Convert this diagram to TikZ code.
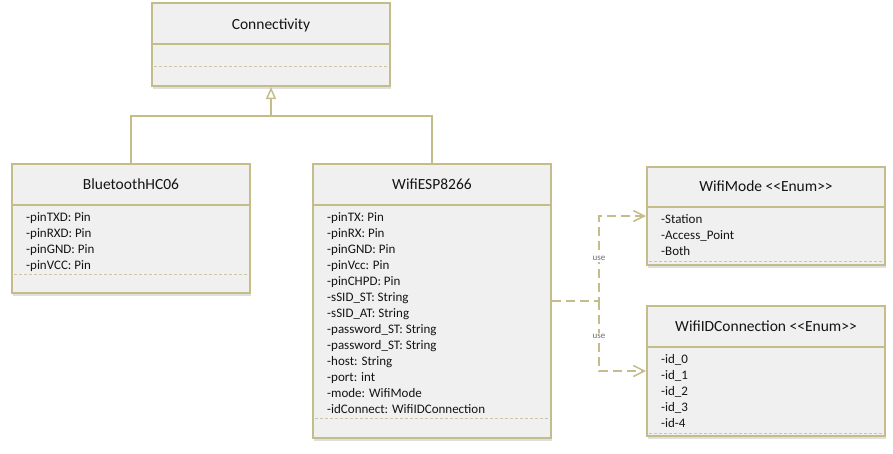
\documentclass[tikz,border=0pt]{standalone}
\usepackage{fontspec}
\setmainfont{Carlito}
\usetikzlibrary{arrows.meta,positioning,calc,shadows}

\definecolor{umlline}{RGB}{196,189,138}
\definecolor{umlsep}{RGB}{205,198,160}
\definecolor{umlfill}{RGB}{240,240,240}
\definecolor{umltext}{RGB}{20,20,20}
\definecolor{uselabel}{RGB}{110,110,110}

\tikzset{
  classbox/.style={shape=rectangle,draw=umlline,line width=2pt,fill=umlfill,
    minimum width=238pt,inner sep=0pt,
    drop shadow={shadow xshift=1pt,shadow yshift=-3pt,opacity=0.25}},
  classline/.style={draw=umlline,line width=2pt},
  sepline/.style={draw=umlsep,line width=1pt,dash pattern=on 3pt off 2pt},
  classtitle/.style={anchor=base,text=umltext,font=\fontsize{15.5}{18}\selectfont,inner sep=0pt},
  attr/.style={anchor=base west,text=umltext,font=\fontsize{13}{15}\selectfont,inner sep=0pt},
  genline/.style={draw=umlline,line width=1.5pt},
  usedep/.style={draw=umlline,line width=1.5pt,dash pattern=on 9pt off 5pt,
    -{Straight Barb[length=11pt,width=11pt,line width=1.5pt]}},
  uselbl/.style={fill=white,inner sep=1pt,text=uselabel,font=\fontsize{9}{10}\selectfont}
}

\begin{document}
\begin{tikzpicture}[x=1pt,y=-1pt]
  \useasboundingbox (0,0) rectangle (893,453);

  % class boxes
  \node[classbox,minimum height=83pt]  (conn) at (271,44.5) {};
  \node[classbox,minimum height=129pt] (bt)   at (131,228.5) {};
  \node[classbox,minimum height=274pt] (wifi) at (432,301) {};
  \node[classbox,minimum height=98pt]  (mode) at (766,216) {};
  \node[classbox,minimum height=130pt] (idc)  at (766,371) {};

  % headers
  \foreach \cls/\hd in {conn/42, bt/42, wifi/42, mode/41, idc/42} {
    \draw[classline] ($(\cls.north west)+(0,\hd)$) -- ($(\cls.north east)+(0,\hd)$);
  }
  \node[classtitle] (conntitle) at ($(conn.north)+(0,27)$) {Connectivity};
  \node[classtitle] (bttitle)   at ($(bt.north)+(0,26)$)   {BluetoothHC06};
  \node[classtitle] (wifititle) at ($(wifi.north)+(0,26)$) {WifiESP8266};
  \node[classtitle] (modetitle) at ($(mode.north)+(0,25)$) {WifiMode <{}<Enum>{}>};
  \node[classtitle] (idctitle)  at ($(idc.north)+(0,26)$)  {WifiIDConnection <{}<Enum>{}>};

  % attributes
  \foreach \attr [count=\i] in {-pinTXD: Pin, -pinRXD: Pin, -pinGND: Pin, -pinVCC: Pin} {
    \node[attr] (bt\i) at ($(bt.north west)+(15,42+16*\i)$) {\attr};
  }
  \foreach \attr [count=\i] in {-pinTX: Pin, -pinRX: Pin, -pinGND: Pin, -pinVcc: Pin,
      -pinCHPD: Pin, -sSID\_ST: String, -sSID\_AT: String, -password\_ST: String,
      -password\_ST: String, -host: String, -port: int, -mode: WifiMode,
      -idConnect: WifiIDConnection} {
    \node[attr] (wifi\i) at ($(wifi.north west)+(15,42+16*\i)$) {\attr};
  }
  \foreach \attr [count=\i] in {-Station, -Access\_Point, -Both} {
    \node[attr] (mode\i) at ($(mode.north west)+(15,41+16*\i)$) {\attr};
  }
  \foreach \attr [count=\i] in {-id\_0, -id\_1, -id\_2, -id\_3, -id-4} {
    \node[attr] (idc\i) at ($(idc.north west)+(15,42+16*\i)$) {\attr};
  }

  % separators
  \foreach \cls/\up in {conn/21, bt/20, wifi/21, mode/5, idc/4} {
    \draw[sepline] ($(\cls.south west)+(3,-\up)$) -- ($(\cls.south east)+(-3,-\up)$);
  }

  % generalisation
  \path (bt.north) ++(0,-47) coordinate (btup);
  \draw[genline] (bt.north) -- (btup) -| (wifi.north);
  \draw[genline,-{Triangle[open,length=12pt,width=10pt,line width=1.5pt]}]
    (btup -| conn.south) -- (conn.south);

  % use
  \draw[usedep] (wifi.east) -- ++(47,0) coordinate (split)
    |- node[uselbl,pos=0.25] (use1) {use} (mode.west);
  \draw[usedep] (split) |- node[uselbl,pos=0.25] (use2) {use} (idc.west);
\end{tikzpicture}
\end{document}
